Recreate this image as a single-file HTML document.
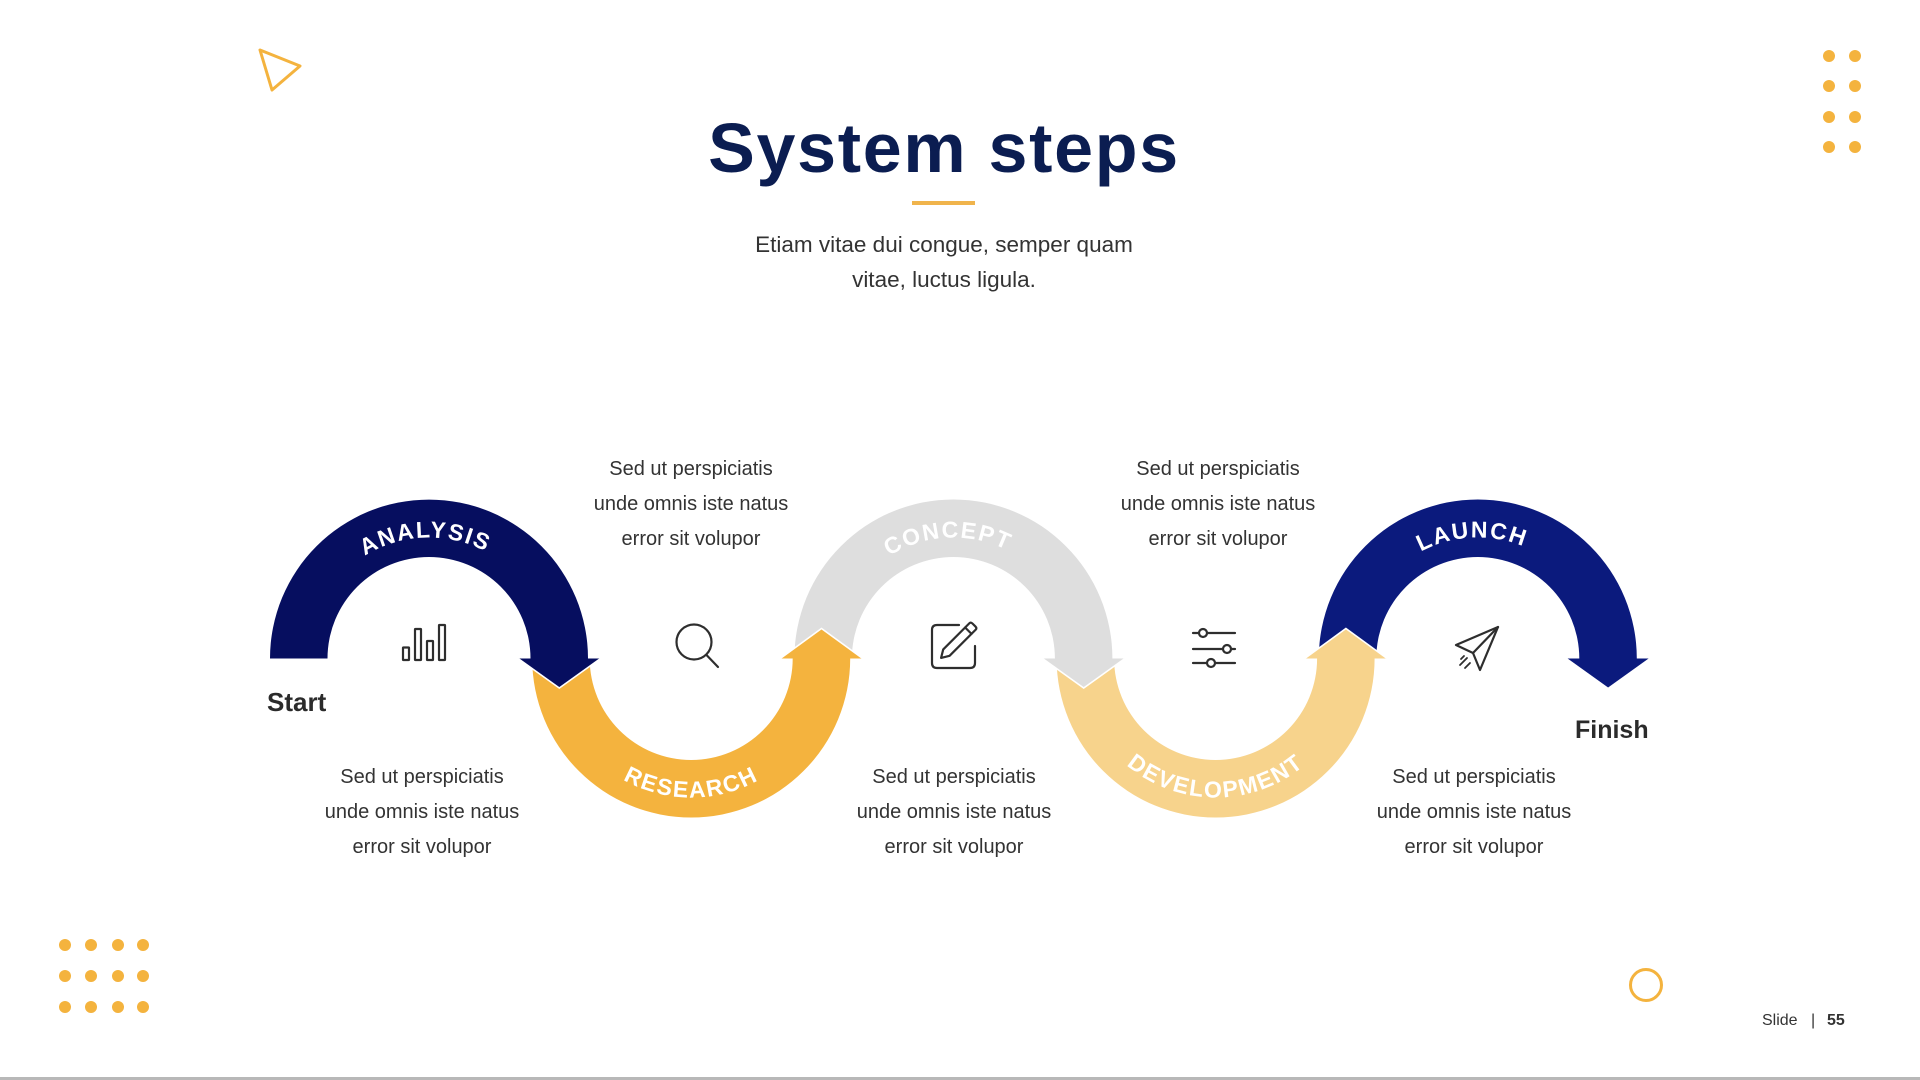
<!DOCTYPE html>
<html>
<head>
<meta charset="utf-8">
<style>
  html, body { margin:0; padding:0; background:#ffffff; }
  body { width:1920px; height:1080px; overflow:hidden; }
  svg { display:block; }
  .t { font-family:"Liberation Sans", Arial, sans-serif; }
</style>
</head>
<body>
<svg width="1920" height="1080" viewBox="0 0 1920 1080" xmlns="http://www.w3.org/2000/svg">
  <defs>
    <path id="p1" d="M308,658.5 A121,121 0 0 1 550,658.5"/>
    <path id="p2" d="M552.2,658.5 A139,139 0 0 0 830.2,658.5"/>
    <path id="p3" d="M832.4,658.5 A121,121 0 0 1 1074.4,658.5"/>
    <path id="p4" d="M1076.6,658.5 A139,139 0 0 0 1354.6,658.5"/>
    <path id="p5" d="M1356.8,658.5 A121,121 0 0 1 1598.8,658.5"/>
  </defs>

  <!-- decorations -->
  <polygon points="260,50 300,66 272,90" fill="none" stroke="#f4b33e" stroke-width="3" stroke-linejoin="round"/>
  <g fill="#f4b33e">
    <circle cx="1829" cy="56" r="6"/><circle cx="1855" cy="56" r="6"/>
    <circle cx="1829" cy="86" r="6"/><circle cx="1855" cy="86" r="6"/>
    <circle cx="1829" cy="117" r="6"/><circle cx="1855" cy="117" r="6"/>
    <circle cx="1829" cy="147" r="6"/><circle cx="1855" cy="147" r="6"/>

    <circle cx="65" cy="945" r="6"/><circle cx="91" cy="945" r="6"/><circle cx="118" cy="945" r="6"/><circle cx="143" cy="945" r="6"/>
    <circle cx="65" cy="976" r="6"/><circle cx="91" cy="976" r="6"/><circle cx="118" cy="976" r="6"/><circle cx="143" cy="976" r="6"/>
    <circle cx="65" cy="1007" r="6"/><circle cx="91" cy="1007" r="6"/><circle cx="118" cy="1007" r="6"/><circle cx="143" cy="1007" r="6"/>
  </g>
  <circle cx="1646" cy="985" r="15.5" fill="none" stroke="#f4b33e" stroke-width="3"/>

  <!-- title -->
  <text class="t" x="944" y="172" text-anchor="middle" font-size="70" font-weight="700" fill="#0b1d51" letter-spacing="1.7">System steps</text>
  <rect x="912" y="201" width="63" height="4" fill="#f0b44c"/>
  <text class="t" x="944" y="252" text-anchor="middle" font-size="22.5" fill="#333333">Etiam vitae dui congue, semper quam</text>
  <text class="t" x="944" y="287" text-anchor="middle" font-size="22.5" fill="#333333">vitae, luctus ligula.</text>

  <!-- arc bands -->
  <path d="M270,658.5 A159,159 0 0 1 588,658.5 L530.5,658.5 A101.5,101.5 0 0 0 327.5,658.5 Z" fill="#060e5f"/>
  <path d="M532.2,658.5 A159,159 0 0 0 850.2,658.5 L792.7,658.5 A101.5,101.5 0 0 1 589.7,658.5 Z" fill="#f4b33e"/>
  <path d="M794.4,658.5 A159,159 0 0 1 1112.4,658.5 L1054.9,658.5 A101.5,101.5 0 0 0 851.9,658.5 Z" fill="#dedede"/>
  <path d="M1056.6,658.5 A159,159 0 0 0 1374.6,658.5 L1317.1,658.5 A101.5,101.5 0 0 1 1114.1,658.5 Z" fill="#f7d38c"/>
  <path d="M1318.8,658.5 A159,159 0 0 1 1636.8,658.5 L1579.3,658.5 A101.5,101.5 0 0 0 1376.3,658.5 Z" fill="#0b1a7d"/>

  <!-- arrowheads -->
  <polygon points="518.8,658.5 599.8,658.5 559.3,687.5" fill="#060e5f"/>
  <polyline points="518.8,659 559.3,688 599.8,659" fill="none" stroke="#ffffff" stroke-width="1.6"/>

  <polygon points="781,658.5 862,658.5 821.5,629" fill="#f4b33e"/>
  <polyline points="781,658 821.5,628.5 862,658" fill="none" stroke="#ffffff" stroke-width="1.6"/>

  <polygon points="1043.2,658.5 1124.2,658.5 1083.7,687.5" fill="#dedede"/>
  <polyline points="1043.2,659 1083.7,688 1124.2,659" fill="none" stroke="#ffffff" stroke-width="1.6"/>

  <polygon points="1305.4,658.5 1386.4,658.5 1345.9,629" fill="#f7d38c"/>
  <polyline points="1305.4,658 1345.9,628.5 1386.4,658" fill="none" stroke="#ffffff" stroke-width="1.6"/>

  <polygon points="1567.6,658.5 1648.6,658.5 1608.1,687.5" fill="#0b1a7d"/>

  <!-- arc labels -->
  <g class="t" font-size="23" font-weight="700" fill="#ffffff" letter-spacing="1.7">
    <text><textPath href="#p1" startOffset="49%" text-anchor="middle">ANALYSIS</textPath></text>
    <text><textPath href="#p2" startOffset="50%" text-anchor="middle">RESEARCH</textPath></text>
    <text><textPath href="#p3" startOffset="48.5%" text-anchor="middle">CONCEPT</textPath></text>
    <text><textPath href="#p4" startOffset="50%" text-anchor="middle">DEVELOPMENT</textPath></text>
    <text><textPath href="#p5" startOffset="48.5%" text-anchor="middle">LAUNCH</textPath></text>
  </g>

  <!-- icons -->
  <g fill="none" stroke="#2e2e2e" stroke-width="2.2" stroke-linecap="round" stroke-linejoin="round">
    <rect x="403" y="647.5" width="6" height="12.5" rx="0.5"/>
    <rect x="415" y="629" width="6" height="31" rx="0.5"/>
    <rect x="427" y="641" width="6" height="19" rx="0.5"/>
    <rect x="439" y="625" width="6" height="35" rx="0.5"/>
    <circle cx="694" cy="642" r="17.5"/>
    <line x1="706.5" y1="655" x2="718" y2="667"/>
    <path d="M959,625 L937,625 Q932,625 932,630 L932,663 Q932,668 937,668 L970,668 Q975,668 975,663 L975,646"/>
    <g transform="translate(957,642) rotate(-45)">
      <path d="M-15,-4.5 L22,-4.5 Q24,-4.5 24,-2 L24,2 Q24,4.5 22,4.5 L-15,4.5 L-22.5,0 Z"/>
      <line x1="16" y1="-4.5" x2="16" y2="4.5"/>
    </g>
    <line x1="1193" y1="633" x2="1235" y2="633"/>
    <line x1="1193" y1="649" x2="1235" y2="649"/>
    <line x1="1193" y1="663" x2="1235" y2="663"/>
    <circle cx="1203" cy="633" r="4" fill="#ffffff"/>
    <circle cx="1227" cy="649" r="4" fill="#ffffff"/>
    <circle cx="1211" cy="663" r="4" fill="#ffffff"/>
    <path d="M1456,645 L1498,627 L1480,670 L1473,653 Z"/>
    <line x1="1473" y1="653" x2="1498" y2="627"/>
    <line x1="1460" y1="665" x2="1467" y2="658" stroke-width="1.8"/>
    <line x1="1465" y1="668" x2="1470" y2="663" stroke-width="1.8"/>
    <line x1="1461" y1="659" x2="1464" y2="656" stroke-width="1.8"/>
  </g>

  <!-- start / finish -->
  <text class="t" x="267" y="711" font-size="26" font-weight="700" fill="#2b2b2b">Start</text>
  <text class="t" x="1575" y="738" font-size="25" font-weight="700" fill="#2b2b2b">Finish</text>

  <!-- text blocks -->
  <g class="t" font-size="20" fill="#333333" text-anchor="middle">
    <text x="691" y="475">Sed ut perspiciatis</text>
    <text x="691" y="510">unde omnis iste natus</text>
    <text x="691" y="545">error sit volupor</text>

    <text x="1218" y="475">Sed ut perspiciatis</text>
    <text x="1218" y="510">unde omnis iste natus</text>
    <text x="1218" y="545">error sit volupor</text>

    <text x="422" y="783">Sed ut perspiciatis</text>
    <text x="422" y="818">unde omnis iste natus</text>
    <text x="422" y="853">error sit volupor</text>

    <text x="954" y="783">Sed ut perspiciatis</text>
    <text x="954" y="818">unde omnis iste natus</text>
    <text x="954" y="853">error sit volupor</text>

    <text x="1474" y="783">Sed ut perspiciatis</text>
    <text x="1474" y="818">unde omnis iste natus</text>
    <text x="1474" y="853">error sit volupor</text>
  </g>

  <!-- footer -->
  <text class="t" x="1762" y="1025" font-size="16" fill="#333333">Slide</text>
  <text class="t" x="1811" y="1025" font-size="16" fill="#333333">|</text>
  <text class="t" x="1827" y="1025" font-size="16" font-weight="700" fill="#333333">55</text>
  <rect x="0" y="1077" width="1920" height="3" fill="#b8b8b8"/>
</svg>
</body>
</html>
